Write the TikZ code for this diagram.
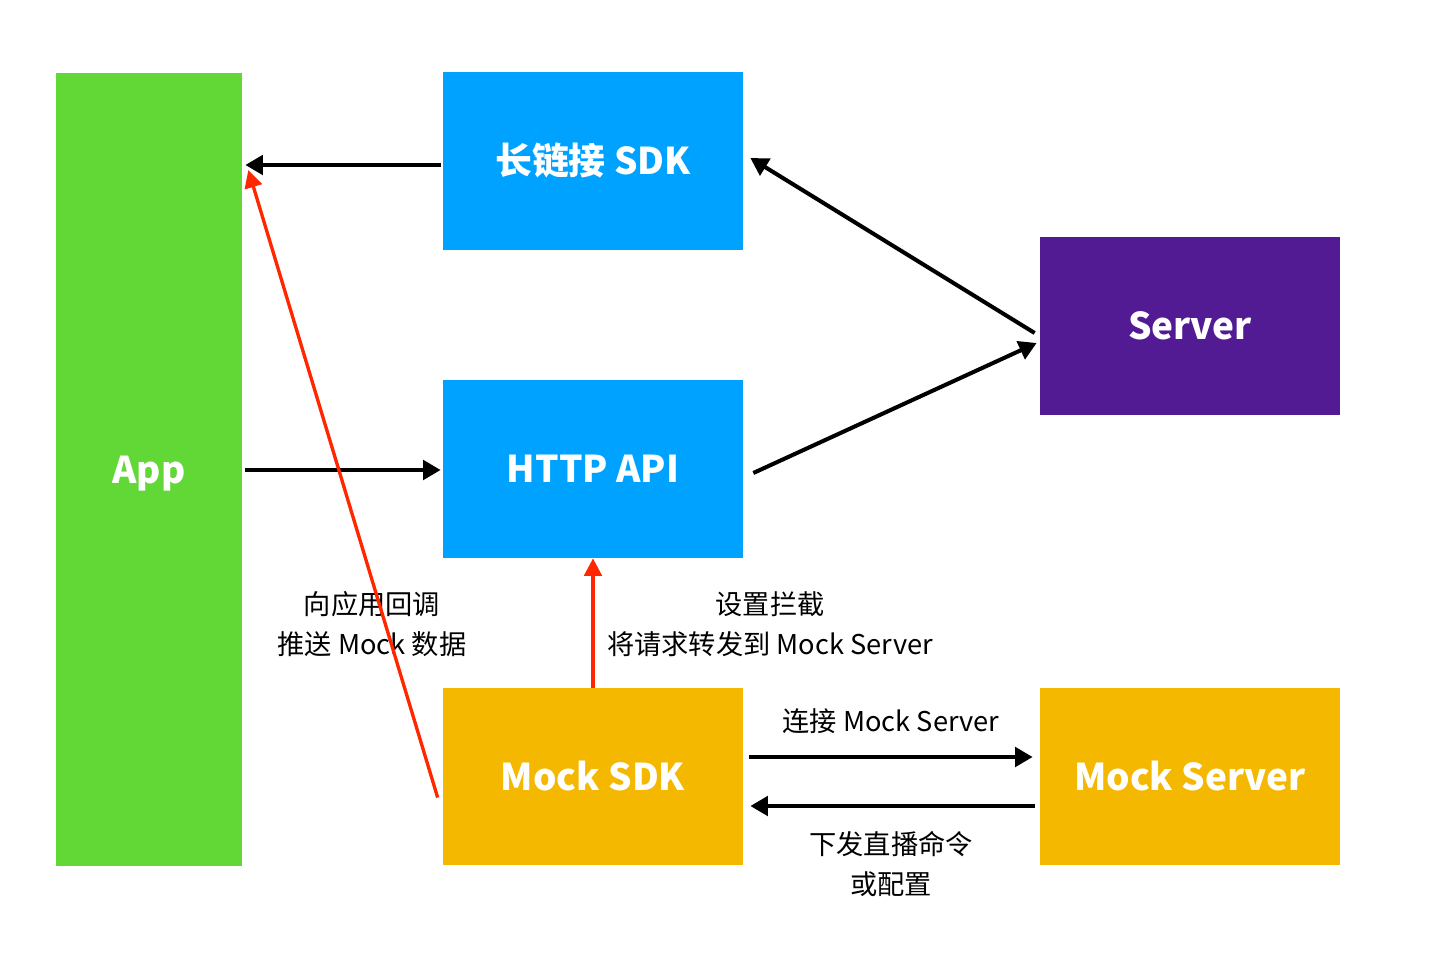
\documentclass[tikz,border=0pt]{standalone}
\usepackage{fontspec}
\setmainfont{Noto Sans CJK SC}
\usetikzlibrary{arrows.meta,calc}

\definecolor{appgreen}{RGB}{98,216,54}
\definecolor{sdkblue}{RGB}{0,162,255}
\definecolor{srvpurple}{RGB}{83,27,147}
\definecolor{mockyellow}{RGB}{245,184,0}
\definecolor{mockred}{RGB}{255,38,0}

\tikzset{
  box/.style={fill=#1, draw=none, minimum width=300*0.02cm, minimum height=178*0.02cm,
    text=white, font=\fontsize{21}{25}\selectfont\bfseries, inner sep=0pt,
    text height=15.4pt, text depth=0pt},
  arr/.style={line width=2.3pt, draw=black, -{Triangle[length=10pt,width=11pt]}},
  redarr/.style={line width=1.9pt, draw=mockred, -{Triangle[length=10pt,width=10pt]}},
  lbl/.style={font=\fontsize{15.5}{22.7}\selectfont, align=center, inner sep=0pt}
}

\begin{document}
\begin{tikzpicture}[x=0.02cm, y=-0.02cm]
	\useasboundingbox (0,0) rectangle (1440,956);
	% boxes
	\node [box=appgreen, minimum width=186*0.02cm, minimum height=793*0.02cm] (app) at (149,469.5) {App};
	\node [box=sdkblue] (lsdk) at (593,161) {长链接 SDK};
	\node [box=sdkblue] (http) at (593,469) {HTTP API};
	\node [box=srvpurple] (server) at (1190,326) {Server};
	\node [box=mockyellow, minimum height=177*0.02cm] (msdk) at (593,776.5) {Mock SDK};
	\node [box=mockyellow, minimum height=177*0.02cm] (mserver) at (1190,776.5) {Mock Server};
	% labels
	\node [lbl] (cb) at (372,624) {向应用回调\\推送 Mock 数据};
	\node [lbl] (hook) at (770,624) {设置拦截\\将请求转发到 Mock Server};
	\node [lbl] (conn) at (891,721) {连接 Mock Server};
	\node [lbl] (cmd) at (891,864) {下发直播命令\\或配置};
	% connectors
	\draw [arr] ($(lsdk.west)+(-2,4)$) -- ($(app.east |- lsdk.west)+(3,4)$);
	\draw [arr] ($(app.east |- http.west)+(3,1)$) -- ($(http.west)+(-2,1)$);
	\draw [arr] ($(server.west)+(-5,7)$) -- ($(lsdk.east)+(7,-3)$);
	\draw [arr] ($(http.east)+(10,4)$) -- ($(server.west)+(-3,17)$);
	\draw [arr] ($(msdk.east)+(6,-19.5)$) -- ($(mserver.west)+(-7,-19.5)$);
	\draw [arr] ($(mserver.west)+(-5,29.5)$) -- ($(msdk.east)+(7,29.5)$);
	\draw [redarr] (msdk.north) -- (http.south);
	\draw [redarr] ($(msdk.west)+(-5,21)$) -- ($(app.east)+(6,-299.5)$);
\end{tikzpicture}
\end{document}
